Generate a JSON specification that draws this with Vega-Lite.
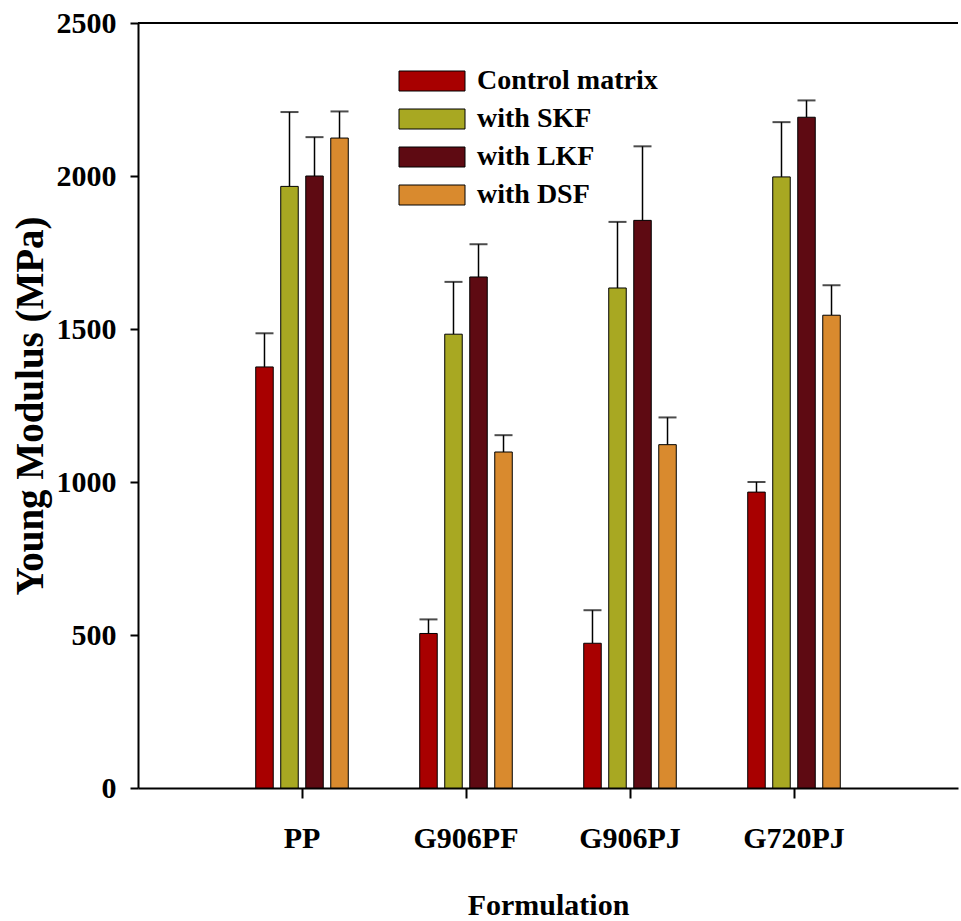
{
  "$schema": "https://vega.github.io/schema/vega-lite/v6.json",
  "width": 820,
  "height": 765,
  "autosize": "none",
  "padding": {"left": 138, "top": 23, "right": 3, "bottom": 133},
  "background": "white",
  "config": {
    "font": "Liberation Serif",
    "view": {"stroke": null},
    "axis": {"labelColor": "black", "titleColor": "black", "labelFontWeight": "bold", "titleFontWeight": "bold", "domainColor": "black", "tickColor": "black", "domainWidth": 2, "tickWidth": 2, "grid": false}
  },
  "data": {
    "values": [
      {"formulation": "PP", "type": "Control matrix", "value": 1376, "upper": 1486},
      {"formulation": "PP", "type": "with SKF", "value": 1966, "upper": 2209},
      {"formulation": "PP", "type": "with LKF", "value": 2000, "upper": 2127},
      {"formulation": "PP", "type": "with DSF", "value": 2124, "upper": 2211},
      {"formulation": "G906PF", "type": "Control matrix", "value": 505, "upper": 551},
      {"formulation": "G906PF", "type": "with SKF", "value": 1483, "upper": 1654},
      {"formulation": "G906PF", "type": "with LKF", "value": 1670, "upper": 1777},
      {"formulation": "G906PF", "type": "with DSF", "value": 1098, "upper": 1153},
      {"formulation": "G906PJ", "type": "Control matrix", "value": 473, "upper": 581},
      {"formulation": "G906PJ", "type": "with SKF", "value": 1634, "upper": 1850},
      {"formulation": "G906PJ", "type": "with LKF", "value": 1855, "upper": 2097},
      {"formulation": "G906PJ", "type": "with DSF", "value": 1122, "upper": 1211},
      {"formulation": "G720PJ", "type": "Control matrix", "value": 967, "upper": 1000},
      {"formulation": "G720PJ", "type": "with SKF", "value": 1997, "upper": 2176},
      {"formulation": "G720PJ", "type": "with LKF", "value": 2192, "upper": 2247},
      {"formulation": "G720PJ", "type": "with DSF", "value": 1545, "upper": 1643}
    ]
  },
  "encoding": {
    "x": {
      "field": "formulation", "type": "nominal",
      "sort": ["PP", "G906PF", "G906PJ", "G720PJ"],
      "scale": {"paddingInner": 0.39, "paddingOuter": 0.695},
      "axis": {"title": "Formulation", "labelAngle": 0, "labelFontSize": 30, "titleFontSize": 30, "tickSize": 10, "labelPadding": 25, "titlePadding": 37}
    },
    "xOffset": {
      "field": "type", "type": "nominal",
      "sort": ["Control matrix", "with SKF", "with LKF", "with DSF"],
      "scale": {"paddingInner": 0.3, "paddingOuter": 0.15}
    }
  },
  "layer": [
    {
      "mark": {"type": "rule", "color": "black", "strokeWidth": 2},
      "encoding": {"y": {"datum": 2500}, "x": null, "xOffset": null}
    },
    {
      "mark": {"type": "rule", "color": "black", "strokeWidth": 1.5},
      "encoding": {
        "y": {"field": "value", "type": "quantitative"},
        "y2": {"field": "upper"}
      }
    },
    {
      "mark": {"type": "tick", "orient": "horizontal", "color": "black", "size": 18, "thickness": 2},
      "encoding": {
        "y": {"field": "upper", "type": "quantitative"}
      }
    },
    {
      "mark": {"type": "bar", "stroke": "black", "strokeWidth": 1},
      "encoding": {
        "y": {
          "field": "value", "type": "quantitative",
          "scale": {"domain": [0, 2500], "nice": false},
          "axis": {"values": [0, 500, 1000, 1500, 2000, 2500], "format": "d", "title": "Young Modulus (MPa)", "titleFontSize": 39, "labelFontSize": 30, "tickSize": 8, "labelPadding": 14, "titlePadding": 6}
        },
        "fill": {
          "field": "type", "type": "nominal",
          "sort": ["Control matrix", "with SKF", "with LKF", "with DSF"],
          "scale": {"range": ["#A80000", "#A8A822", "#5E0A12", "#D98A2E"]},
          "legend": {
            "title": null, "orient": "none", "legendX": 280, "legendY": 44, "padding": 0,
            "symbolType": "M-3.3,-1H3.3V1H-3.3Z", "symbolSize": 400, "symbolStrokeColor": "black", "symbolStrokeWidth": 1, "symbolOpacity": 1,
            "labelFontSize": 28, "labelFontWeight": "bold", "labelColor": "black", "labelOffset": 31, "rowPadding": 10, "labelLimit": 400
          }
        }
      }
    }
  ]
}
